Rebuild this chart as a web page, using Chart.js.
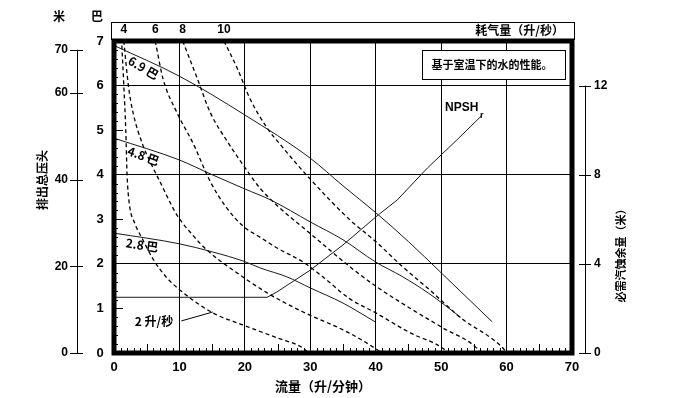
<!DOCTYPE html>
<html>
<head>
<meta charset="utf-8">
<script src="https://cdn.jsdelivr.net/npm/chart.js@4.4.1/dist/chart.umd.min.js"></script>
<style>
html, body { margin: 0; padding: 0; background: #fff; }
#wrap { width: 700px; height: 398px; position: relative; }
</style>
</head>
<body>
<div id="wrap"><canvas id="pumpChart" width="700" height="398"></canvas></div>
<script>
// axis ticks
const flowTicks = [0, 10, 20, 30, 40, 50, 60, 70];
const barTicks = [0, 1, 2, 3, 4, 5, 6, 7];
const meterTicks = [0, 20, 40, 60, 70];
const npshTicks = [0, 4, 8, 12];

// 排出压力 (巴) per air inlet pressure, [流量, 压力]
const air69 = [[0, 6.9], [10, 6.21], [20, 5.34], [30, 4.37], [35, 3.75], [40, 3.15], [45, 2.5], [50, 1.8], [57.8, 0.7]];
const air48 = [[0, 4.82], [10, 4.33], [15, 4.0], [20, 3.68], [24, 3.43], [30, 2.94], [35, 2.54], [40, 2.04], [44, 1.72], [48, 1.35], [53, 0.8]];
const air28 = [[0, 2.69], [10, 2.45], [15, 2.27], [20, 2.05], [22.3, 1.91], [26.4, 1.71], [30, 1.46], [35, 1.12], [39.9, 0.7]];

// 耗气量 (升/秒) curves
const airUse = [2, 4, 6, 8, 10];
const use2 = [[1.2, 6.9], [1.5, 6.0], [1.8, 5.0], [2.0, 4.0], [2.3, 3.4], [3.2, 2.9], [4.2, 2.6], [6, 2.1], [8, 1.7], [10.1, 1.41], [15.1, 0.9], [19.7, 0.63], [24.9, 0.34], [28.9, 0.11], [29.7, 0]];
const use4 = [[1.5, 7], [2.2, 6.0], [2.9, 5.4], [4.4, 4.67], [5.5, 4.3], [7, 3.85], [9.6, 3.1], [12, 2.65], [14.2, 2.31], [18.2, 1.86], [23.4, 1.35], [28.9, 0.92], [35, 0.52], [38, 0.28], [41, 0]];
const use6 = [[6.3, 7], [7.5, 6.15], [9.6, 5.4], [12.1, 4.7], [14.7, 3.85], [17, 3.3], [19.7, 2.85], [22.3, 2.6], [25, 2.35], [28.9, 2.04], [32, 1.7], [36, 1.22], [40, 0.9], [45.3, 0.45], [50.3, 0.1], [51, 0]];
const use8 = [[10.5, 7], [12.7, 6.17], [14.7, 5.4], [17.3, 4.75], [20.3, 4.1], [22.3, 3.7], [25, 3.3], [30, 2.68], [36.1, 1.93], [40, 1.5], [45.3, 1.0], [50.3, 0.56], [55.5, 0.1], [56, 0]];
const use10 = [[16.8, 7], [18.8, 6.4], [20.8, 5.7], [23.4, 5.05], [25.4, 4.68], [30, 3.9], [36.1, 2.98], [40, 2.5], [44, 1.95], [48.3, 1.41], [52.9, 0.8], [59.5, 0.1], [60, 0]];

// 必需汽蚀余量 (米)
const npsh = [[0, 2.5], [23.4, 2.5], [24.9, 2.74], [30, 3.72], [35, 4.85], [40.4, 6.2], [43.3, 6.87], [47.9, 8.3], [52.4, 9.56], [56.3, 10.68]];

const latin = '"Liberation Sans", Arial, "Noto Sans CJK SC", sans-serif';
const cjk = '"Noto Sans CJK SC", "Liberation Sans", sans-serif';

function pts(arr) {
    return arr.map(p => ({ x: p[0], y: p[1] }));
}

function solid(arr) {
    return { data: pts(arr), borderColor: '#1a1a1a', borderWidth: 1, pointRadius: 0, fill: false, cubicInterpolationMode: 'monotone' };
}

function dashed(arr) {
    return { data: pts(arr), borderColor: '#000', borderWidth: 1.3, borderDash: [4, 3], pointRadius: 0, fill: false, cubicInterpolationMode: 'monotone' };
}

const useCurves = [use2, use4, use6, use8, use10];

const decor = {
    id: 'decor',
    afterDraw(chart) {
        const c = chart.ctx;
        const a = chart.chartArea;
        const sx = chart.scales.x, sy = chart.scales.y, sm = chart.scales.yM, sn = chart.scales.yN;
        c.save();
        c.strokeStyle = '#000';
        c.fillStyle = '#000';

        // minor ticks
        c.lineWidth = 1;
        c.beginPath();
        for (let q = 1; q < 70; q++) {
            if (q % 10 === 0) continue;
            const px = Math.round(sx.getPixelForValue(q)) + 0.5;
            const len = q % 5 === 0 ? 9 : 5;
            c.moveTo(px, a.bottom);
            c.lineTo(px, a.bottom - len);
        }
        for (let i = 1; i < 35; i++) {
            if (i % 10 === 0) continue;
            const py = Math.round(sy.getPixelForValue(i / 5)) + 0.5;
            const len = i % 5 === 0 ? 9 : 4;
            c.moveTo(a.left, py);
            c.lineTo(a.left + len, py);
        }
        c.stroke();

        // heavy frame
        c.lineWidth = 5;
        c.strokeRect(a.left, a.top, a.right - a.left, a.bottom - a.top);

        // air use strip above the plot
        c.lineWidth = 1;
        c.strokeRect(a.left - 2.5, 22.5, a.right - a.left + 5, a.top - 24);
        c.font = 'bold 12px ' + latin;
        c.textAlign = 'center';
        c.textBaseline = 'middle';
        useCurves.forEach((arr, i) => {
            if (arr[0][1] < 7) return;
            c.fillText(String(airUse[i]), sx.getPixelForValue(arr[0][0]), 30);
        });
        c.textAlign = 'right';
        c.font = 'bold 12px ' + cjk;
        c.fillText('耗气量（升/秒）', a.right - 8, 30);

        // bar tick labels
        c.font = 'bold 13px ' + latin;
        c.textAlign = 'center';
        barTicks.forEach(v => c.fillText(String(v), a.left - 14, sy.getPixelForValue(v)));
        flowTicks.forEach(v => c.fillText(String(v), sx.getPixelForValue(v), a.bottom + 14));

        // meter scale on the far left
        const mx = 77.5;
        c.lineWidth = 1;
        c.beginPath();
        c.moveTo(mx, sm.getPixelForValue(0));
        c.lineTo(mx, sm.getPixelForValue(70));
        meterTicks.forEach(v => {
            const py = Math.round(sm.getPixelForValue(v)) + 0.5;
            c.moveTo(70, py);
            c.lineTo(83, py);
        });
        c.stroke();
        c.font = 'bold 12px ' + latin;
        c.textAlign = 'right';
        meterTicks.forEach(v => c.fillText(String(v), 68, sm.getPixelForValue(v)));

        // NPSHr scale on the right
        const nx = 585.5;
        c.beginPath();
        c.moveTo(nx, sn.getPixelForValue(0));
        c.lineTo(nx, sn.getPixelForValue(12));
        npshTicks.forEach(v => {
            const py = Math.round(sn.getPixelForValue(v)) + 0.5;
            c.moveTo(579, py);
            c.lineTo(591, py);
        });
        c.stroke();
        c.textAlign = 'left';
        npshTicks.forEach(v => c.fillText(String(v), 594, sn.getPixelForValue(v)));

        // unit marks and axis titles
        c.textAlign = 'center';
        c.font = 'bold 12px ' + cjk;
        c.fillText('米', 59, 16);
        c.fillText('巴', 97, 16);
        c.font = 'bold 13px ' + cjk;
        c.fillText('流量（升/分钟）', 323, 386);

        c.save();
        c.translate(42, 180);
        c.rotate(-Math.PI / 2);
        c.font = 'bold 12px ' + cjk;
        c.fillText('排出总压头', 0, 0);
        c.restore();

        c.save();
        c.translate(621, 253);
        c.rotate(-Math.PI / 2);
        c.font = 'bold 11px ' + cjk;
        c.fillText('必需汽蚀余量（米）', 0, 0);
        c.restore();

        // note box
        c.fillStyle = '#fff';
        c.fillRect(422, 50, 143, 29);
        c.strokeRect(422.5, 50.5, 143, 29);
        c.fillStyle = '#000';
        c.font = 'bold 11px ' + cjk;
        c.fillText('基于室温下的水的性能。', 492, 65);

        // NPSHr label
        c.textAlign = 'left';
        c.font = 'bold 12px ' + latin;
        c.fillText('NPSH', 445, 108);
        c.font = 'bold 9px ' + latin;
        c.fillText('r', 480, 116);

        // curve labels
        const tag = (txt, q, p, ang) => {
            c.save();
            c.translate(sx.getPixelForValue(q), sy.getPixelForValue(p));
            c.rotate(ang * Math.PI / 180);
            c.textAlign = 'center';
            c.font = 'bold 12px ' + cjk;
            c.fillText(txt, 0, 0);
            c.restore();
        };
        tag('6.9 巴', 4.5, 6.4, 30);
        tag('4.8 巴', 4.5, 4.42, 20);
        tag('2.8 巴', 4.3, 2.42, 8);

        c.textAlign = 'center';
        c.font = 'bold 12px ' + cjk;
        c.fillText('2 升/秒', sx.getPixelForValue(6.1), sy.getPixelForValue(0.7));
        c.lineWidth = 1;
        c.beginPath();
        c.moveTo(sx.getPixelForValue(10.3), sy.getPixelForValue(0.72));
        c.lineTo(sx.getPixelForValue(15.1), sy.getPixelForValue(0.92));
        c.stroke();

        c.restore();
    }
};

const ctx = document.getElementById('pumpChart').getContext('2d');
const pumpChart = new Chart(ctx, {
    type: 'line',
    data: {
        datasets: [
            solid(air69),
            solid(air48),
            solid(air28),
            dashed(use2),
            dashed(use4),
            dashed(use6),
            dashed(use8),
            dashed(use10),
            Object.assign(solid(npsh), { yAxisID: 'yN', cubicInterpolationMode: 'default', tension: 0 })
        ]
    },
    options: {
        responsive: false,
        animation: false,
        devicePixelRatio: 1,
        layout: { padding: { left: 114, top: 41, right: 128, bottom: 45 } },
        plugins: { legend: { display: false }, tooltip: { enabled: false } },
        scales: {
            x: {
                type: 'linear',
                min: 0,
                max: 70,
                ticks: { display: false, stepSize: 10 },
                border: { display: false },
                grid: {
                    drawTicks: false,
                    lineWidth: 1,
                    color: (c) => (c.tick && c.tick.value > 0 && c.tick.value < 70) ? '#000' : 'rgba(0,0,0,0)'
                }
            },
            y: {
                min: 0,
                max: 7,
                ticks: { display: false, stepSize: 1 },
                border: { display: false },
                grid: {
                    drawTicks: false,
                    lineWidth: 1,
                    color: (c) => (c.tick && [2, 4, 6].includes(c.tick.value)) ? '#000' : 'rgba(0,0,0,0)'
                }
            },
            yM: { display: false, position: 'left', min: 0, max: 72 },
            yN: { display: false, position: 'right', min: 0, max: 14 }
        }
    },
    plugins: [decor]
});
</script>
</body>
</html>
